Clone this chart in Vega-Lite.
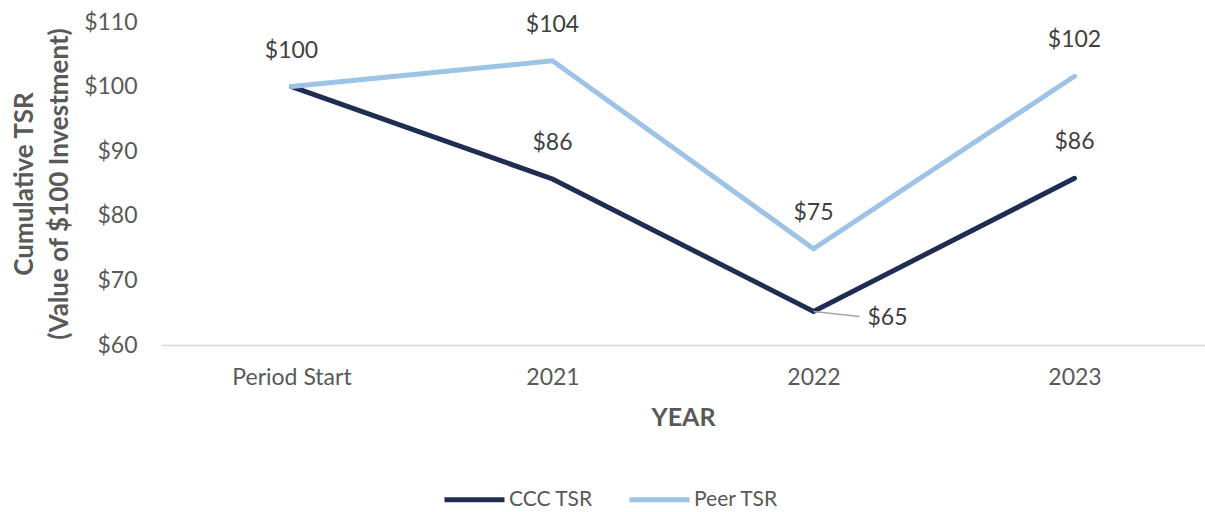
{
  "$schema": "https://vega.github.io/schema/vega-lite/v6.json",
  "width": 1044,
  "height": 323,
  "autosize": {"type": "none"},
  "padding": {"left": 161, "top": 22, "right": 0, "bottom": 167},
  "background": "white",
  "config": {
    "view": {"stroke": null},
    "font": "Lato",
    "axis": {"labelFont": "Lato", "titleFont": "Lato"}
  },
  "data": {
    "values": [
      {"year": "Period Start", "series": "CCC TSR", "value": 100},
      {"year": "2021", "series": "CCC TSR", "value": 85.7},
      {"year": "2022", "series": "CCC TSR", "value": 65.2},
      {"year": "2023", "series": "CCC TSR", "value": 85.8},
      {"year": "Period Start", "series": "Peer TSR", "value": 100},
      {"year": "2021", "series": "Peer TSR", "value": 104},
      {"year": "2022", "series": "Peer TSR", "value": 74.9},
      {"year": "2023", "series": "Peer TSR", "value": 101.6}
    ]
  },
  "encoding": {
    "x": {
      "field": "year", "type": "ordinal",
      "sort": ["Period Start", "2021", "2022", "2023"],
      "scale": {"type": "point", "padding": 0.5},
      "axis": {
        "title": "YEAR", "titleFontSize": 25, "titleFontWeight": "bold", "titleColor": "#595959",
        "titlePadding": 16,
        "labelAngle": 0, "labelFontSize": 23, "labelColor": "#595959", "labelPadding": 21,
        "ticks": false, "domain": true, "domainColor": "#D9D9D9", "domainWidth": 1.5, "grid": false
      }
    },
    "y": {
      "field": "value", "type": "quantitative",
      "scale": {"domain": [60, 110], "nice": false, "zero": false},
      "axis": {
        "title": ["Cumulative TSR", "(Value of $100 Investment)"],
        "titleFontSize": 26, "titleFontWeight": "bold", "titleColor": "#595959", "titleLineHeight": 35,
        "titlePadding": 11,
        "values": [60, 70, 80, 90, 100, 110], "format": "$.0f",
        "labelFontSize": 23, "labelColor": "#595959", "labelPadding": 24,
        "ticks": false, "domain": false, "grid": false
      }
    }
  },
  "layer": [
    {
      "mark": {"type": "line", "strokeWidth": 5, "strokeJoin": "miter", "strokeCap": "round"},
      "encoding": {
        "color": {
          "field": "series", "type": "nominal",
          "scale": {"domain": ["CCC TSR", "Peer TSR"], "range": ["#1F2D52", "#9DC3E6"]},
          "legend": {
            "title": null, "orient": "none", "direction": "horizontal",
            "legendX": 281, "legendY": 445,
            "symbolType": "stroke", "symbolSize": 3600, "symbolStrokeWidth": 5,
            "labelFontSize": 21, "labelColor": "#595959", "labelOffset": 2,
            "columnPadding": 26
          }
        },
        "order": {"field": "series"}
      }
    },
    {
      "transform": [{"filter": "datum.series == 'CCC TSR' && datum.year == '2022'"}],
      "mark": {"type": "rule", "color": "#A6A6A6", "strokeWidth": 1.5, "x2Offset": 46, "y2Offset": 5},
      "encoding": {
        "x2": {"field": "year"},
        "y2": {"field": "value"}
      }
    },
    {
      "transform": [{"filter": "!(datum.series == 'CCC TSR' && (datum.year == 'Period Start' || datum.year == '2022'))"}],
      "mark": {"type": "text", "dy": -36, "fontSize": 23, "color": "#404040", "baseline": "middle"},
      "encoding": {"text": {"field": "value", "type": "quantitative", "format": "$.0f"}}
    },
    {
      "transform": [{"filter": "datum.series == 'CCC TSR' && datum.year == '2022'"}],
      "mark": {"type": "text", "dx": 54, "dy": 7, "align": "left", "fontSize": 23, "color": "#404040", "baseline": "middle"},
      "encoding": {"text": {"field": "value", "type": "quantitative", "format": "$.0f"}}
    }
  ]
}
